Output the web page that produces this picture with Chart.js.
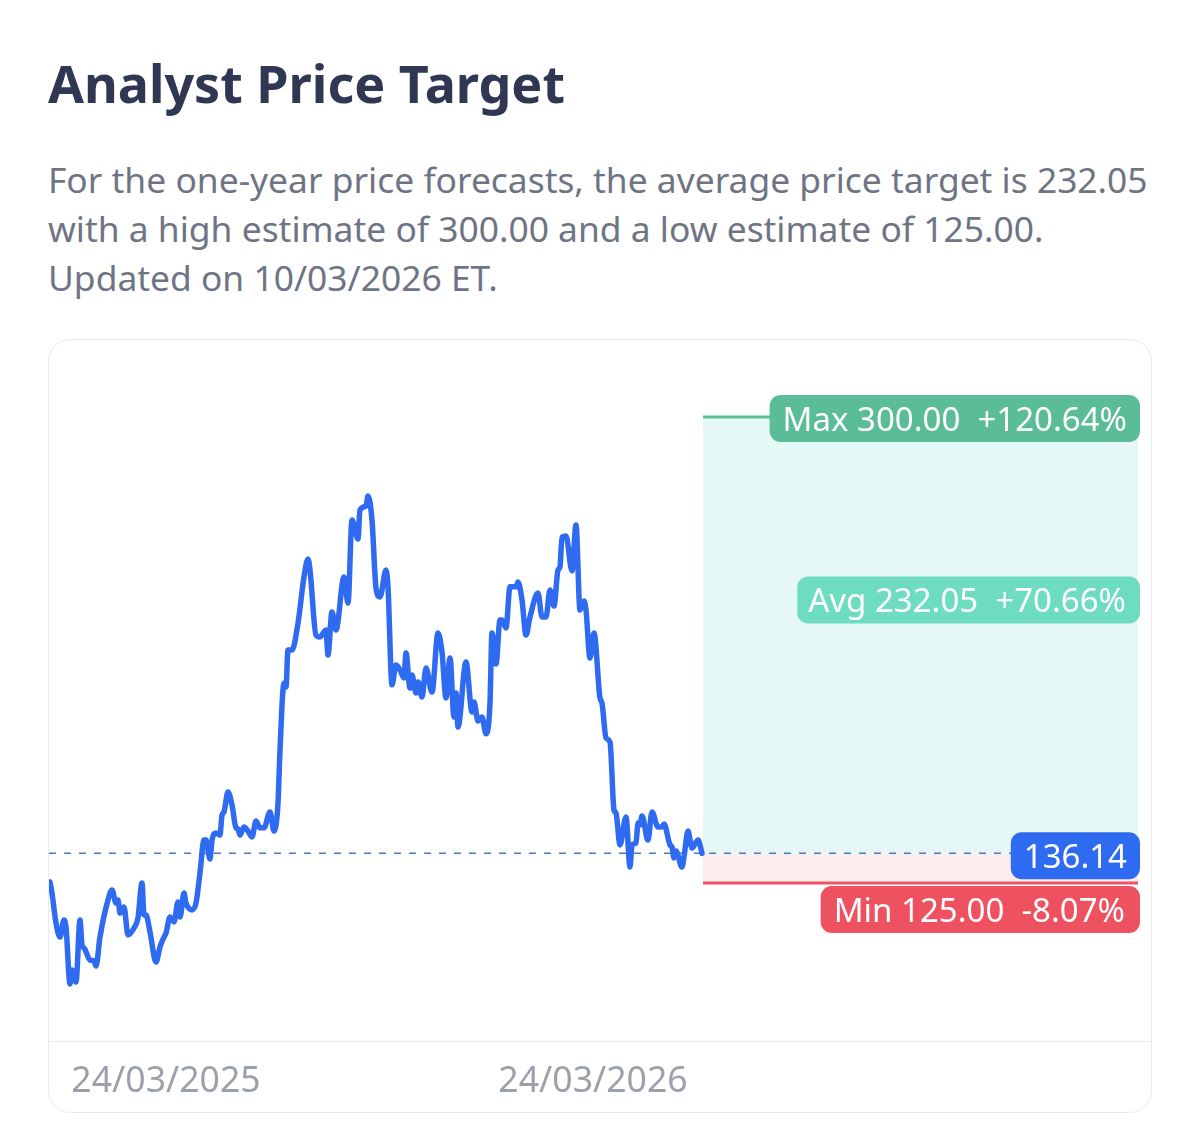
<!DOCTYPE html>
<html>
<head>
<meta charset="utf-8">
<title>Analyst Price Target</title>
<script src="https://cdn.jsdelivr.net/npm/chart.js@4"></script>
<style>
  html, body { margin: 0; background: #fff; font-family: "Noto Sans", sans-serif; }
  body { width: 1200px; height: 1134px; position: relative; overflow: hidden; }
  h1 { position: absolute; left: 48px; top: 49px; margin: 0; font-size: 52px; line-height: 68px; font-weight: 700; color: #2f3752; white-space: nowrap; }
  p { position: absolute; left: 48px; top: 155px; margin: 0; font-size: 35.4px; line-height: 49px; color: #6f7484; white-space: nowrap; }
  .card { position: absolute; left: 48px; top: 339px; width: 1102px; height: 772px; border: 1px solid #e9ebef; border-radius: 22px; overflow: hidden; }
  canvas { display: block; }
</style>
</head>
<body>
<h1>Analyst Price Target</h1>
<p>For the one-year price forecasts, the average price target is 232.05<br>with a high estimate of 300.00 and a low estimate of 125.00.<br>Updated on 10/03/2026 ET.</p>
<div class="card"><canvas id="chart" width="1102" height="772"></canvas></div>
<script>
const steps = [0,1,3,5,7,8,10,11,13,15,16,17,20,22,23,25,29,31,33,34,35,37,39,42,44,46,47,48,50,53,55,57,58,60,62,64,65,67,68,71,73,75,77,78,80,81,83,85,86,87,89,91,93,94,95,97,99,101,103,105,107,110,112,114,115,117,118,119,121,124,127,129,130,133,135,138,139,141,143,147,149,151,154,155,158,159,161,163,165,168,169,171,173,175,177,178,180,181,183,184,186,188,191,194,196,198,200,202,203,204,208,211,212,214,216,218,220,221,223,225,226,228,230,233,234,236,238,240,244,246,248,250,252,254,255,256,258,261,263,265,267,268,270,272,275,276,278,280,282,283,285,288,290,291,293,294,295,296,299,301,304,306,307,310,311,312,313,316,317,319,321,324,326];
const prices = [125.4,121.2,110.0,104.7,111.1,108.5,87.1,92.3,87.8,111.1,101.7,100.6,96.1,95.7,93.8,104.7,118.6,122.4,117.5,118.6,113.7,116.0,105.5,108.1,111.9,125.0,113.0,113.0,106.6,95.3,101.0,104.7,106.2,112.2,110.4,117.9,112.2,121.2,117.5,114.9,117.5,128.8,141.1,141.1,134.0,141.1,143.8,143.0,150.5,151.7,159.2,154.3,145.7,145.3,143.0,146.0,144.5,142.3,148.3,145.7,145.7,151.7,144.5,155.0,174.9,200.1,198.6,212.5,212.5,222.6,239.9,246.7,242.5,218.1,217.4,220.0,210.6,226.8,220.0,239.9,230.1,261.3,254.2,265.1,266.6,270.3,261.3,235.8,232.4,242.5,236.2,199.4,206.9,205.0,202.0,211.4,198.2,203.1,196.3,200.5,194.8,205.7,196.7,218.9,211.7,194.5,209.5,187.3,196.3,183.6,208.0,189.2,193.0,185.8,187.3,181.0,192.6,218.9,207.2,223.8,223.8,220.8,236.2,236.2,238.0,231.3,218.1,224.9,233.9,224.9,224.9,235.0,229.0,242.5,243.7,254.9,255.3,242.2,259.4,227.5,230.9,227.5,209.5,218.9,194.5,192.6,179.5,177.9,152.4,151.3,139.3,149.8,131.0,139.3,140.0,147.5,146.8,150.2,141.1,151.7,146.0,146.0,147.2,139.3,138.5,134.4,137.0,131.0,134.8,144.5,138.1,141.1,136.14];

const tickSteps = [58, 271.5];
const tickLabels = ["24/03/2025", "24/03/2026"];

const current = 136.14;
const maxTarget = 300;
const avgTarget = 232.05;
const minTarget = 125;
const forecastRange = [326.5, 544];

const pills = [
  { text: "Max 300.00  +120.64%", value: maxTarget, shift: 1.5, padLeft: 13, padRight: 13, color: "#5abd98" },
  { text: "Avg 232.05  +70.66%", value: avgTarget, shift: 2, padLeft: 11, padRight: 14, color: "#6edcc1" },
  { text: "136.14", value: current, shift: 2.5, padLeft: 13, padRight: 13, color: "#2f6bf0" },
  { text: "Min 125.00  -8.07%", value: minTarget, shift: 26.5, padLeft: 13, padRight: 15, color: "#ee5261" }
];

function hLine(value) {
  return forecastRange.map(x => ({ x: x, y: value }));
}

// labels on top of the forecast area, right edge just past the zone
const pillPlugin = {
  id: "pills",
  afterDatasetsDraw(chart) {
    const ctx = chart.ctx;
    const right = chart.scales.x.getPixelForValue(545);
    ctx.save();
    ctx.font = '33px "Noto Sans"';
    ctx.textBaseline = "middle";
    pills.forEach(p => {
      const w = ctx.measureText(p.text).width + p.padLeft + p.padRight;
      const cy = chart.scales.y.getPixelForValue(p.value) + p.shift;
      ctx.fillStyle = p.color;
      ctx.beginPath();
      ctx.roundRect(right - w, cy - 23.5, w, 47, 11);
      ctx.fill();
      ctx.fillStyle = "#fff";
      ctx.fillText(p.text, right - w + p.padLeft, cy + 3);
    });
    ctx.restore();
  }
};

new Chart(document.getElementById("chart"), {
  type: "line",
  data: {
    datasets: [
      { data: steps.map((s, i) => ({ x: s, y: prices[i] })), borderColor: "#2f6bf0", borderWidth: 5.5, borderJoinStyle: "round", borderCapStyle: "round", cubicInterpolationMode: "monotone", pointRadius: 0, order: 1 },
      { data: [{ x: -0.5, y: current }, { x: forecastRange[1], y: current }], borderColor: "#4f78c0", borderWidth: 1.5, borderDash: [7, 8], pointRadius: 0, order: 2 },
      { data: hLine(maxTarget), borderColor: "#5abd98", borderWidth: 3, pointRadius: 0, order: 3 },
      { data: hLine(minTarget), borderColor: "#ee5261", borderWidth: 3, pointRadius: 0, order: 3 },
      { data: hLine(maxTarget), borderWidth: 0, pointRadius: 0, backgroundColor: "#e6f8f5", fill: { value: current }, order: 4 },
      { data: hLine(minTarget), borderWidth: 0, pointRadius: 0, backgroundColor: "#fdecee", fill: { value: current }, order: 4 }
    ]
  },
  options: {
    responsive: false,
    animation: false,
    layout: { padding: 0 },
    plugins: { legend: { display: false }, tooltip: { enabled: false } },
    scales: {
      x: {
        type: "linear",
        min: -0.5,
        max: 550.5,
        afterFit: scale => { scale.height = 71; },
        afterBuildTicks: scale => { scale.ticks = tickSteps.map(v => ({ value: v })); },
        grid: { display: false },
        border: { color: "#e9ebef", width: 1 },
        ticks: {
          autoSkip: false,
          maxRotation: 0,
          padding: 11,
          color: "#9ca0aa",
          font: { family: "Noto Sans", size: 35.6 },
          callback: value => tickLabels[tickSteps.indexOf(value)]
        }
      },
      y: { display: false, min: 65.67, max: 328.9 }
    }
  },
  plugins: [pillPlugin]
});
</script>
</body>
</html>
